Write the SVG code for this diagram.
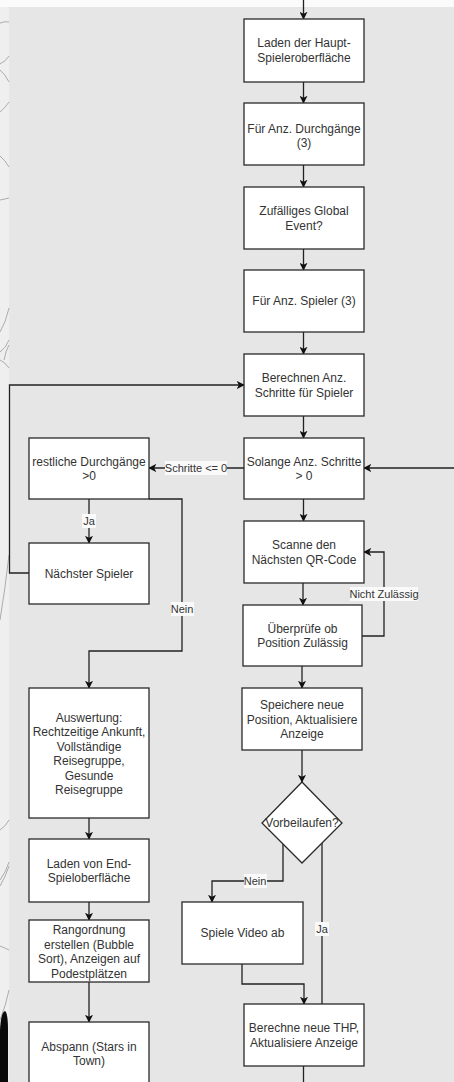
<svg xmlns="http://www.w3.org/2000/svg" width="454" height="1082" viewBox="0 0 454 1082">
<style>
.bg{fill:#e6e6e6}
.box{fill:#ffffff;stroke:#2a2a2a;stroke-width:1.3}
.t{font-family:"Liberation Sans",Arial,sans-serif;font-size:12px;fill:#333;text-anchor:middle;dominant-baseline:central}
.e{fill:none;stroke:#222;stroke-width:1.3}
.lbg{fill:#fafafa}
.lt{font-family:"Liberation Sans",Arial,sans-serif;font-size:11px;fill:#333;text-anchor:middle;dominant-baseline:central}
.sk{fill:none;stroke:#9a9a9a;stroke-width:0.8}
</style>
<defs>
<marker id="ah" viewBox="0 0 10 10" refX="9" refY="5" markerWidth="8" markerHeight="8" markerUnits="userSpaceOnUse" orient="auto">
<path d="M0,0 L10,5 L0,10 L2.5,5 Z" fill="#111"/>
</marker>
</defs>
<rect class="bg" x="0" y="0" width="454" height="1082"/>
<rect x="0" y="0" width="454" height="7" fill="#fbfbfb"/>
<rect x="0" y="7" width="9" height="1075" fill="#efefef"/>
<g id="sketch">
<path class="sk" d="M0,23 Q5,21 9,22"/>
<path class="sk" d="M0,64 Q6,61 9,56"/>
<path class="sk" d="M0,70 Q5,74 9,82"/>
<path class="sk" d="M0,112 Q5,108 9,102"/>
<path class="sk" d="M0,156 Q5,160 9,167"/>
<path class="sk" d="M0,200 Q5,199 9,198"/>
<path class="sk" d="M0,332 Q6,322 9,308"/>
<path class="sk" d="M0,352 Q6,348 9,340"/>
<path class="sk" d="M0,360 Q5,362 9,368"/>
<path class="sk" d="M4,360 Q6,350 9,345"/>
<path class="sk" d="M0,620 Q5,590 9,555"/>
<path class="sk" d="M0,830 Q6,826 9,820"/>
<path class="sk" d="M0,880 Q6,872 9,862"/>
<path class="sk" d="M0,886 Q6,876 9,866"/>
<path class="sk" d="M0,946 Q5,948 9,950"/>
<path class="sk" d="M0,1020 Q6,1005 9,990"/>
</g>
<path d="M0,1082 L0,1030 Q1,1012 5,1011 Q8,1013 8,1030 L8,1082 Z" fill="#0a0a0a"/>
<g id="connectors">
<path class="e" d="M303.5,0 V19" marker-end="url(#ah)"/>
<path class="e" d="M303.5,82 V103" marker-end="url(#ah)"/>
<path class="e" d="M303.5,165 V187" marker-end="url(#ah)"/>
<path class="e" d="M303.5,249 V270" marker-end="url(#ah)"/>
<path class="e" d="M303.5,332 V354" marker-end="url(#ah)"/>
<path class="e" d="M303.5,416 V438" marker-end="url(#ah)"/>
<path class="e" d="M244,468 H149" marker-end="url(#ah)"/>
<path class="e" d="M454,468 H364" marker-end="url(#ah)"/>
<path class="e" d="M303.5,499 V521" marker-end="url(#ah)"/>
<path class="e" d="M303,583 V605" marker-end="url(#ah)"/>
<path class="e" d="M362,636 H384 V552 H364" marker-end="url(#ah)"/>
<path class="e" d="M302,666 V688" marker-end="url(#ah)"/>
<path class="e" d="M302,750 V782" marker-end="url(#ah)"/>
<path class="e" d="M283,844 V881 H212 V902" marker-end="url(#ah)"/>
<path class="e" d="M322,843 V1004"/>
<path class="e" d="M242,964 V984 H304 V1004" marker-end="url(#ah)"/>
<path class="e" d="M303.5,1066 V1082"/>
<path class="e" d="M89,499 V543" marker-end="url(#ah)"/>
<path class="e" d="M149,499 H182 V651 H89 V688" marker-end="url(#ah)"/>
<path class="e" d="M29,573 H9.5 V385 H244" marker-end="url(#ah)"/>
<path class="e" d="M89,818 V839" marker-end="url(#ah)"/>
<path class="e" d="M89,902 V920" marker-end="url(#ah)"/>
<path class="e" d="M89,982 V1022" marker-end="url(#ah)"/>
<rect class="lbg" x="165" y="461" width="62" height="14"/>
<text class="lt" x="196" y="468">Schritte &lt;= 0</text>
<rect class="lbg" x="350" y="587" width="68" height="14"/>
<text class="lt" x="384" y="594">Nicht Zulässig</text>
<rect class="lbg" x="171" y="602" width="23" height="14"/>
<text class="lt" x="182" y="609">Nein</text>
<rect class="lbg" x="82" y="514" width="14" height="14"/>
<text class="lt" x="89" y="521">Ja</text>
<rect class="lbg" x="244" y="874" width="23" height="14"/>
<text class="lt" x="255" y="881">Nein</text>
<rect class="lbg" x="315" y="922" width="14" height="14"/>
<text class="lt" x="322" y="929">Ja</text>
</g>
<g id="n1"><rect class="box" x="244" y="19" width="120" height="63"/><text class="t" x="304" y="43">Laden der Haupt-</text><text class="t" x="304" y="58">Spieleroberfläche</text></g>
<g id="n2"><rect class="box" x="244" y="103" width="120" height="62"/><text class="t" x="304" y="128.5">Für Anz. Durchgänge</text><text class="t" x="304" y="143">(3)</text></g>
<g id="n3"><rect class="box" x="244" y="187" width="120" height="62"/><text class="t" x="304" y="211">Zufälliges Global</text><text class="t" x="304" y="225.5">Event?</text></g>
<g id="n4"><rect class="box" x="244" y="270" width="120" height="62"/><text class="t" x="304" y="301">Für Anz. Spieler (3)</text></g>
<g id="n5"><rect class="box" x="244" y="354" width="120" height="62"/><text class="t" x="304" y="378">Berechnen Anz.</text><text class="t" x="304" y="392.5">Schritte für Spieler</text></g>
<g id="n6"><rect class="box" x="244" y="438" width="120" height="61"/><text class="t" x="304" y="461.5">Solange Anz. Schritte</text><text class="t" x="304" y="476">&gt; 0</text></g>
<g id="n7"><rect class="box" x="29" y="438" width="120" height="61"/><text class="t" x="89" y="461.5">restliche Durchgänge</text><text class="t" x="89" y="476">&gt;0</text></g>
<g id="n8"><rect class="box" x="29" y="543" width="120" height="61"/><text class="t" x="89" y="573.5">Nächster Spieler</text></g>
<g id="n9"><rect class="box" x="244" y="521" width="120" height="62"/><text class="t" x="304" y="545">Scanne den</text><text class="t" x="304" y="559.5">Nächsten QR-Code</text></g>
<g id="n10"><rect class="box" x="243" y="605" width="119" height="61"/><text class="t" x="302.5" y="628.5">Überprüfe ob</text><text class="t" x="302.5" y="643">Position Zulässig</text></g>
<g id="n11"><rect class="box" x="242" y="688" width="120" height="62"/><text class="t" x="302" y="705">Speichere neue</text><text class="t" x="302" y="719.5">Position, Aktualisiere</text><text class="t" x="302" y="734">Anzeige</text></g>
<g id="n12"><polygon class="box" points="302,782 342,823 302,863 262,823"/><text class="t" x="302" y="823">Vorbeilaufen?</text></g>
<g id="n13"><rect class="box" x="182" y="902" width="121" height="62"/><text class="t" x="242.5" y="933">Spiele Video ab</text></g>
<g id="n14"><rect class="box" x="244" y="1004" width="120" height="62"/><text class="t" x="304" y="1028">Berechne neue THP,</text><text class="t" x="304" y="1042.5">Aktualisiere Anzeige</text></g>
<g id="n15"><rect class="box" x="29" y="688" width="120" height="130"/><text class="t" x="89" y="717.5">Auswertung:</text><text class="t" x="89" y="732">Rechtzeitige Ankunft,</text><text class="t" x="89" y="746.5">Vollständige</text><text class="t" x="89" y="761">Reisegruppe,</text><text class="t" x="89" y="775.5">Gesunde</text><text class="t" x="89" y="790">Reisegruppe</text></g>
<g id="n16"><rect class="box" x="29" y="839" width="120" height="63"/><text class="t" x="89" y="863.5">Laden von End-</text><text class="t" x="89" y="878">Spieloberfläche</text></g>
<g id="n17"><rect class="box" x="29" y="920" width="120" height="62"/><text class="t" x="89" y="930">Rangordnung</text><text class="t" x="89" y="944.5">erstellen (Bubble</text><text class="t" x="89" y="959">Sort), Anzeigen auf</text><text class="t" x="89" y="973.5">Podestplätzen</text></g>
<g id="n18"><rect class="box" x="29" y="1022" width="120" height="62"/><text class="t" x="89" y="1046.5">Abspann (Stars in</text><text class="t" x="89" y="1061">Town)</text></g>
</svg>
